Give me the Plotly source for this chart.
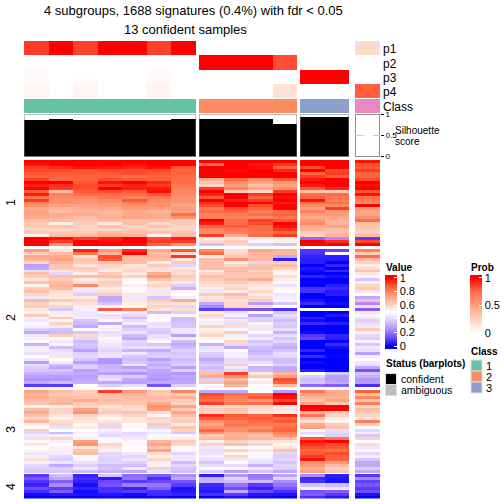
import plotly.graph_objects as go

# ---------- text ----------
TITLE_1 = "4 subgroups, 1688 signatures (0.4%) with fdr &lt; 0.05"
TITLE_2 = "13 confident samples"
ANNOT_LABELS = ["p1", "p2", "p3", "p4", "Class"]
SLICE_LABELS = ["1", "2", "3", "4"]
VALUE_TICKS = [0, 0.2, 0.4, 0.6, 0.8, 1]
PROB_TICKS = [0, 0.5, 1]
CLASS_NAMES = ["1", "2", "3"]
CLASS_COLORS = ["#66C2A5", "#FC8D62", "#8DA0CB", "#E78AC3"]
STATUS_NAMES = ["confident", "ambiguous"]
STATUS_COLORS = ["#000000", "#BEBEBE"]

# ---------- values ----------
GROUP_SIZES = [7, 4, 2, 1]

P1 = [[.86, 1, .85, 1, 1, .85, 1], [0, 0, 0, 0], [0, 0], [.2]]
P2 = [[0, 0, 0, 0, 0, 0, 0], [1, 1, 1, .82], [0, 0], [0]]
P3 = [[.03, 0, .015, 0, 0, .03, 0], [0, 0, 0, 0], [1, 1], [0]]
P4 = [[.05, 0, .06, 0, 0, .06, 0], [0, 0, 0, .16], [0, 0], [.78]]
SILHOUETTE = [[.87, .9, .89, .89, .89, .87, .9], [.91, .91, .91, .79], [.96, .96], [0]]

# Heat-map rows, in percent (50 is white).
SLICE_1 = [
    [100,100,100,100,100,100,100, 100,100,100,100, 100,100, 98],
    [ 98,100,100,100, 98,100,100,  84,100, 97, 93, 100,100, 90],
    [ 92, 94, 98, 97, 95, 98, 88, 100,100, 98, 85,  90,100, 88],
    [ 90, 90, 88, 90, 90, 90, 86, 100, 98,100, 95, 100, 90, 92],
    [ 88, 88, 88, 88, 90, 88, 86, 100,100,100,100,  86, 92, 86],
    [ 86, 86, 86, 86, 84, 86, 84, 100,100,100,100,  92, 88, 86],
    [ 92, 85, 86, 90, 88, 86, 84,  70, 85, 78, 88,  97,100, 90],
    [100,100, 88, 98,100, 95, 84,  64, 76, 70, 76, 100,100,100],
    [ 96, 94, 90, 92, 95, 92, 82,  60, 74, 66, 72,  96,100, 98],
    [100, 92, 90,100, 96, 97, 80,  92, 78, 72, 76,  88, 95,100],
    [ 86, 66, 88, 90, 88, 98, 78, 100, 62, 60, 92,  64, 62, 88],
    [ 96, 80, 84, 84, 84, 88, 78,  96,100, 92,100,  84, 84, 98],
    [ 82, 78, 78, 82, 80, 82, 76,  88,100, 86, 98,  86, 82, 84],
    [ 92, 76, 76, 78, 88, 78, 76, 100, 96, 92,100,  98, 80, 80],
    [ 80, 76, 76, 76, 80, 76, 74,  94,100,100, 96,  84, 84, 78],
    [ 76, 72, 72, 74, 76, 76, 72,  90,100, 90,100,  78, 78,100],
    [ 70, 68, 70, 70, 74, 72, 74,  82, 90, 86,100,  72, 92, 74],
    [ 72, 66, 68, 68, 70, 68, 72,  84, 86, 80, 84,  80, 74, 72],
    [ 72, 70, 70, 68, 70, 70, 84,  80, 82, 84, 86,  72, 74, 72],
    [ 70, 68, 66, 68, 72, 70, 76,  80, 80, 78, 82,  70, 70, 76],
    [ 66, 66, 64, 66, 64, 66, 62, 100, 84, 92, 88,  74, 68, 84],
    [ 62, 54, 62, 56, 66, 60, 62,  96, 84, 90,100,  78, 68, 64],
    [ 62, 64, 60, 64, 60, 64, 60,  86, 88, 84, 98,  70, 72, 64],
    [ 60, 60, 60, 60, 62, 60, 60,  78, 82, 84, 92,  68, 66, 62],
    [ 62, 62, 62, 66, 64, 64, 62,  78, 80, 82, 86,  62, 64, 60],
    [ 54, 66, 66, 70, 68, 54, 66,  92, 70, 84, 92,  60, 68, 66],
    [100, 98, 92, 96,100, 90, 96,  55, 56, 54, 54,  18, 24, 10],
    [100, 92,100, 98,100, 92, 92,  58, 62, 48, 53, 100, 94, 90],
    [100, 76,100,100, 98, 86, 76,  35, 60, 38, 35, 100,100,100],
]

SLICE_2 = [
    [ 74, 56, 96, 74, 94, 70, 88,  78, 58, 72, 68,   9, 11, 80],
    [ 62, 66, 82, 68,100, 66, 58,  84, 60, 68, 66,   8, 50, 62],
    [ 70, 70, 56, 90, 66, 68, 92,  54, 64, 66, 30,   6,  5, 84],
    [ 68, 72, 64, 88, 66, 66, 56,  66, 76, 68,  5,   5,  5, 66],
    [ 60, 68, 62, 64, 66, 46, 62,  66, 54, 40, 62,   5,  0, 60],
    [ 28, 64, 56, 60, 56, 62, 40,  66, 60, 64, 66,   0,  6, 54],
    [ 30, 62, 62, 58, 58, 58, 56,  66, 64, 66, 60,   4,  0, 58],
    [ 42, 56, 60, 54, 60, 56, 60,  54, 66, 60, 54,   2,  7, 64],
    [ 66, 40, 54, 62, 56, 70, 58,  60, 64, 64, 52,   0,  0, 56],
    [ 62, 64, 66, 66, 60, 74, 62,  64, 62, 62, 58,   6,  3, 52],
    [ 56, 62, 54, 58, 52, 64, 60,  62, 66, 70, 54,   0,  0, 36],
    [ 64, 66, 58, 62, 50, 56, 56,  60, 62, 58, 48,   1,  0, 54],
    [ 52, 68, 78, 60, 54, 60, 38,  58, 58, 56, 42,   0,  5, 60],
    [ 62, 66, 54, 54, 50, 56, 32,  54, 60, 54, 52,   9,  7, 62],
    [ 66, 58, 42, 58, 52, 44, 52,  44, 54, 60, 50,   8,  4, 56],
    [ 60, 56, 38, 62, 56, 56, 50,  62, 66, 54, 44,   0,  5, 50],
    [ 44, 56, 56, 30, 44, 36, 46,  56, 60, 58, 46,   0,  0, 30],
    [ 66, 62, 60, 30, 56, 62, 70,  58, 56, 62, 52,   3,  0, 64],
    [ 60, 54, 58, 36, 54, 58, 56,  30, 60, 28, 36,   7,  2, 24],
    [ 62, 60, 54, 46, 52, 60, 40,  24, 60, 58, 50,   0,  0, 58],
    [ 56, 36, 46, 88, 80, 56, 58,  10, 14, 14,  8,  50, 50, 16],
    [ 52, 46, 44, 48, 46, 34, 38,  54, 42, 50, 36,   0,  0, 56],
    [ 62, 54, 44, 42, 40, 52, 52,  60, 46, 28, 42,   0,  4, 48],
    [ 46, 62, 46, 56, 34, 52, 34,  44, 38, 40, 38,   5,  0, 44],
    [ 44, 52, 36, 48, 42, 50, 34,  48, 56, 38, 34,   2,  0, 38],
    [ 48, 60, 34, 30, 46, 42, 36,  46, 42, 48, 38,   7,  5, 42],
    [ 46, 44, 30, 48, 34, 44, 36,  60, 58, 56, 36,   0,  0, 44],
    [ 38, 36, 50, 46, 38, 38, 44,  54, 48, 44, 42,   0,  0, 62],
    [ 30, 34, 36, 42, 44, 36, 44,  56, 62, 50, 32,   2,  0, 54],
    [ 44, 62, 58, 44, 34, 42, 28,  60, 46, 40, 42,   9,  6, 40],
    [ 54, 50, 40, 52, 30, 44, 46,  52, 52, 46, 36,  12,  5, 38],
    [ 48, 44, 34, 46, 40, 50, 34,  50, 60, 36, 40,   0,  0, 48],
    [ 32, 48, 36, 44, 38, 36, 30,  32, 40, 38, 34,   0,  7, 36],
    [ 46, 34, 34, 42, 42, 42, 34,  42, 30, 34, 30,   0,  2, 44],
    [ 46, 42, 28, 40, 32, 30, 38,  44, 50, 32, 36,   6,  0, 42],
    [ 42, 44, 38, 42, 44, 36, 36,  38, 46, 34, 42,   0,  0, 28],
    [ 50, 56, 40, 44, 36, 38, 38,  36, 46, 38, 40,   7,  1, 46],
    [ 44, 50, 36, 26, 34, 28, 34,  30, 40, 36, 34,   0,  0, 50],
    [ 28, 46, 28, 26, 36, 34, 36,  34, 42, 42, 34,   2,  0, 44],
    [ 42, 34, 36, 32, 44, 30, 38,  38, 62, 48, 40,   0,  0, 42],
    [ 38, 30, 38, 32, 28, 34, 28,  34, 44, 32, 30,   0,  0, 30],
    [ 36, 36, 28, 34, 34, 30, 38,  36, 40, 34, 30,   5,  1, 14],
    [ 32, 32, 30, 28, 26, 28, 26,  66, 92, 56, 68,  50, 36, 36],
    [ 28, 28, 28, 40, 38, 28, 30,  70, 78, 64, 72,  38, 28, 32],
    [ 26, 26, 30, 42, 30, 26, 28,  38, 66, 48, 90,  34, 28, 26],
    [ 30, 34, 32, 30, 28, 30, 30,  64, 72, 56, 86,  36, 30, 28],
    [ 10, 10, 50, 38, 42, 14, 38,  50, 68, 50, 66,  18, 16,  8],
]

SLICE_3 = [
    [ 72, 66, 62, 92, 74, 64, 78,  30, 30, 50, 28,  82, 70, 86],
    [ 68, 62, 62, 66, 68, 62, 62,  90, 84, 84,100,  72, 70, 66],
    [ 70, 66, 64, 64, 66, 66, 68,  86, 80, 88, 98,  68, 68, 78],
    [ 66, 66, 70, 66, 64, 64, 62,  84, 78, 76, 90,  64, 72, 64],
    [ 64, 68, 62, 64, 64, 70, 60,  92, 82, 84,100,  72, 62, 80],
    [ 52, 54, 60, 56, 60, 76, 72,  58, 60, 60, 54, 100,100, 60],
    [ 66, 60, 72, 60, 58, 74, 62,  62, 64, 58, 56, 100,100, 66],
    [ 70, 60, 76, 62, 64, 58, 72,  60, 62, 56, 54,  68, 62, 62],
    [ 64, 56, 60, 56, 60, 52, 66,  94, 88, 86, 94,  82, 60, 60],
    [ 60, 52, 58, 50, 56, 60, 60,  88, 86, 88, 84,  64, 54, 56],
    [ 68, 58, 56, 56, 56, 58, 62,  76, 80, 84, 88,  58, 52, 80],
    [ 54, 60, 52, 60, 50, 62, 54,  72, 82, 82, 80,  70, 62, 62],
    [ 50, 42, 54, 40, 52, 40, 64,  76, 78, 76, 84,  72, 64, 50],
    [ 62, 50, 50, 54, 50, 48, 60,  86, 76, 82, 86,  50, 42, 40],
    [ 40, 34, 46, 44, 40, 44, 36,  76, 70, 72, 80,  40, 40, 46],
    [ 44, 46, 48, 40, 42, 48, 48,  62, 68, 64, 76,  46, 38, 36],
    [ 58, 60, 54, 48, 44, 52, 54,  66, 70, 68, 66,  88, 82, 60],
    [ 48, 46, 72, 48, 52, 68, 62,  54, 60, 56, 56,  98,100, 50],
    [ 56, 50, 76, 60, 48, 72, 60,  60, 66, 60, 52,  94, 90, 58],
    [ 50, 46, 56, 56, 50, 64, 48,  44, 50, 50, 56,  90, 88, 44],
    [ 52, 54, 64, 54, 50, 72, 48,  42, 60, 56, 64,  84, 84, 48],
    [ 44, 46, 66, 40, 44, 58, 40,  42, 52, 52, 40,  88, 90, 40],
    [ 46, 40, 50, 40, 40, 54, 44,  46, 60, 48, 38,  92, 86, 46],
    [ 58, 38, 48, 38, 44, 60, 44,  42, 44, 44, 40,  98, 86, 36],
    [ 46, 44, 42, 40, 38, 46, 34,  36, 50, 42, 36,  76, 74, 30],
    [ 40, 30, 38, 34, 34, 54, 40,  42, 42, 32, 40,  74, 66, 30],
    [ 38, 38, 44, 36, 44, 38, 36,  48, 48, 44, 38,  68, 60, 38],
    [ 36, 36, 34, 32, 30, 42, 34,  38, 28, 36, 30,  72, 64, 30],
]

SLICE_4 = [
    [  9, 34,  6, 36, 18, 16, 24,   5, 26, 20, 28,  24,  5,  9],
    [ 14, 30,  8,  5, 20,  8, 30,  32, 40, 22, 40,   7,  4, 24],
    [  9, 16,  6, 12, 10, 12, 14,  32, 34, 34, 24,   8,  3, 11],
    [  6, 24,  2, 14, 22, 20, 10,   7, 20, 10, 20,  36, 34, 15],
    [ 13, 10,  6,  8,  6, 16,  3,   6, 13,  6, 15,  46, 44, 10],
    [  7, 16,  2,  8, 10,  8,  4,   4, 30, 13,  8,  14, 16, 13],
    [  2,  4,  3,  4,  2,  7,  6,   8, 10,  4,  3,  16, 10,  3],
    [  0,  0,  0,  1,  0,  1,  0,   0,  3,  1,  0,   8,  4,  0],
]

# ---------- layout (pixels in a 504 x 504 page) ----------
W = H = 504.0
GROUP_X = [(24, 196), (199, 297), (300, 349), (355, 380)]
BLOCK_Y = {
    "prob": (41, 98), "class": (99, 113), "sil": (114.5, 156.5),
    "s1": (160, 246), "s2": (249, 387), "s3": (390, 473), "s4": (474, 498.5),
}
BLOCK_AXIS = {k: ("y" if i == 0 else f"y{i + 1}") for i, k in enumerate(BLOCK_Y)}
FONT = "Liberation Sans"

VALUE_STOPS = [
    (0, "#0000ff"), (.125, "#6f49ff"), (.25, "#ae90ff"), (.375, "#dccdff"), (.5, "#ffffff"),
    (.625, "#ffc9b5"), (.75, "#ff9673"), (.875, "#ff5c36"), (1, "#ff0000"),
]
PROB_STOPS = [(0, "#ffffff"), (.25, "#ffd2c2"), (.5, "#ffa284"), (.75, "#ff6c47"), (1, "#ff0000")]


def padded(stops, pad):
    """Colour scale over [-pad, 1 + pad] with flat ends, so the bar overshoots its ticks."""
    span = 1 + 2 * pad
    out = [[0, stops[0][1]]]
    out += [[(v + pad) / span, c] for v, c in stops]
    out += [[1, stops[-1][1]]]
    return out


VAL_PAD, PROB_PAD = 0.04, 0.05
fig = go.Figure()


def xname(g):
    return "x" if g == 0 else f"x{g + 1}"


def split(rows, g):
    start = sum(GROUP_SIZES[:g])
    return [r[start:start + GROUP_SIZES[g]] for r in rows]


for g in range(4):
    xa = xname(g)
    fig.add_trace(go.Heatmap(
        z=[P1[g], P2[g], P3[g], P4[g]], xaxis=xa, yaxis=BLOCK_AXIS["prob"], coloraxis="coloraxis2",
        hoverinfo="skip"))
    fig.add_trace(go.Heatmap(
        z=[[g + 1] * GROUP_SIZES[g]], xaxis=xa, yaxis=BLOCK_AXIS["class"], zmin=1, zmax=4, showscale=False,
        colorscale=[[i / 3, c] for i, c in enumerate(CLASS_COLORS)], hoverinfo="skip"))
    fig.add_trace(go.Bar(
        x=list(range(GROUP_SIZES[g])), y=SILHOUETTE[g], width=1, marker=dict(color="black", line_width=0),
        xaxis=xa, yaxis=BLOCK_AXIS["sil"], showlegend=False, hoverinfo="skip"))
    for key, rows in zip(["s1", "s2", "s3", "s4"], [SLICE_1, SLICE_2, SLICE_3, SLICE_4]):
        fig.add_trace(go.Heatmap(
            z=[[v / 100 for v in r] for r in split(rows, g)], xaxis=xa, yaxis=BLOCK_AXIS[key],
            coloraxis="coloraxis", hoverinfo="skip"))

layout = dict(
    width=504, height=504, margin=dict(l=0, r=0, t=0, b=0, autoexpand=False), paper_bgcolor="white",
    plot_bgcolor="white", font=dict(family=FONT, color="black"), showlegend=False, bargap=0,
    coloraxis=dict(
        cmin=-VAL_PAD, cmax=1 + VAL_PAD, colorscale=padded(VALUE_STOPS, VAL_PAD),
        colorbar=dict(
            x=385 / W, xanchor="left", xpad=0, y=1 - 275 / H, yanchor="top", ypad=0,
            thicknessmode="pixels", thickness=12, lenmode="pixels", len=74, outlinewidth=0,
            tickvals=VALUE_TICKS, ticktext=[str(v) for v in VALUE_TICKS], ticks="inside", ticklen=3,
            tickcolor="white", tickfont=dict(size=11, family=FONT))),
    coloraxis2=dict(
        cmin=-PROB_PAD, cmax=1 + PROB_PAD, colorscale=padded(PROB_STOPS, PROB_PAD),
        colorbar=dict(
            x=470 / W, xanchor="left", xpad=0, y=1 - 275 / H, yanchor="top", ypad=0,
            thicknessmode="pixels", thickness=12, lenmode="pixels", len=61, outlinewidth=0,
            tickvals=PROB_TICKS, ticktext=[str(v) for v in PROB_TICKS], ticks="inside", ticklen=3,
            tickcolor="white", tickfont=dict(size=11, family=FONT))),
)

for g, (x0, x1) in enumerate(GROUP_X):
    layout[("xaxis" if g == 0 else f"xaxis{g + 1}")] = dict(
        domain=[x0 / W, x1 / W], range=[-0.5, GROUP_SIZES[g] - 0.5], visible=False, fixedrange=True)

for i, (key, (y0, y1)) in enumerate(BLOCK_Y.items()):
    name = "yaxis" if i == 0 else f"yaxis{i + 1}"
    ax = dict(domain=[1 - y1 / H, 1 - y0 / H], visible=False, fixedrange=True)
    if key == "prob":
        ax["range"] = [3.5, -0.5]
    elif key == "class":
        ax["range"] = [-0.5, 0.5]
    elif key == "sil":
        ax.update(range=[0, 1], visible=True, anchor="x4", side="right", showgrid=False, zeroline=False,
                  showline=False, ticks="outside", ticklen=3, tickwidth=1, tickcolor="black",
                  tickvals=[0, 0.5, 1], ticktext=["0", "0.5", "1"], tickfont=dict(size=8, family=FONT))
    else:
        n = {"s1": SLICE_1, "s2": SLICE_2, "s3": SLICE_3, "s4": SLICE_4}[key]
        ax["range"] = [len(n) - 0.5, -0.5]
    layout[name] = ax

shapes = []
sil_y = BLOCK_AXIS["sil"]
for g in range(4):
    shapes.append(dict(
        type="rect", xref=xname(g), yref=sil_y, x0=-0.5, x1=GROUP_SIZES[g] - 0.5, y0=0, y1=1,
        line=dict(color="#222222" if g == 3 else "#777777", width=1)))
shapes.append(dict(type="line", xref=xname(3), yref=sil_y, x0=-0.5, x1=0.5, y0=0.5, y1=0.5,
                   line=dict(color="#cccccc", width=1, dash="dash")))


def swatch(x0, y0, x1, y1, color):
    shapes.append(dict(type="rect", xref="paper", yref="paper", x0=x0 / W, x1=x1 / W,
                       y0=1 - y1 / H, y1=1 - y0 / H, fillcolor=color, line=dict(color="#dddddd", width=1)))


for i, c in enumerate(CLASS_COLORS[:3]):
    swatch(471, 360 + 11 * i, 482, 371 + 11 * i, c)
for i, c in enumerate(STATUS_COLORS):
    swatch(385.5, 373.5 + 11 * i, 396.5, 384.5 + 11 * i, c)
layout["shapes"] = shapes

annots = []


def text(x, y, s, size, anchor="left", bold=False, angle=0):
    annots.append(dict(
        xref="paper", yref="paper", x=x / W, y=1 - y / H, text=f"<b>{s}</b>" if bold else s, showarrow=False,
        xanchor=anchor, yanchor="middle", textangle=angle, font=dict(size=size, family=FONT, color="black")))


text(193, 10, TITLE_1, 13, "center")
text(185, 29, TITLE_2, 13, "center")
for lab, y in zip(ANNOT_LABELS, [49.5, 63.5, 77.5, 92, 107]):
    text(381, y, lab, 12)
text(393, 131, "Silhouette", 10)
text(393, 141, "score", 10)
for lab, y in zip(SLICE_LABELS, [203, 318, 430, 487]):
    text(11, y, lab, 12.5, "center", angle=-90)
text(384, 267, "Value", 10, bold=True)
text(469, 267, "Prob", 10, bold=True)
text(469, 351, "Class", 10, bold=True)
text(384, 363, "Status (barplots)", 10, bold=True)
for lab, y in zip(CLASS_NAMES, [366, 377, 388]):
    text(484, y, lab, 11)
for lab, y in zip(STATUS_NAMES, [379, 390]):
    text(399, y, lab, 10.5)
layout["annotations"] = annots

fig.update_layout(**layout)
fig.write_html("out.html", config={"displayModeBar": False},
               post_script="document.body.style.margin='0';document.body.style.overflow='hidden';")
